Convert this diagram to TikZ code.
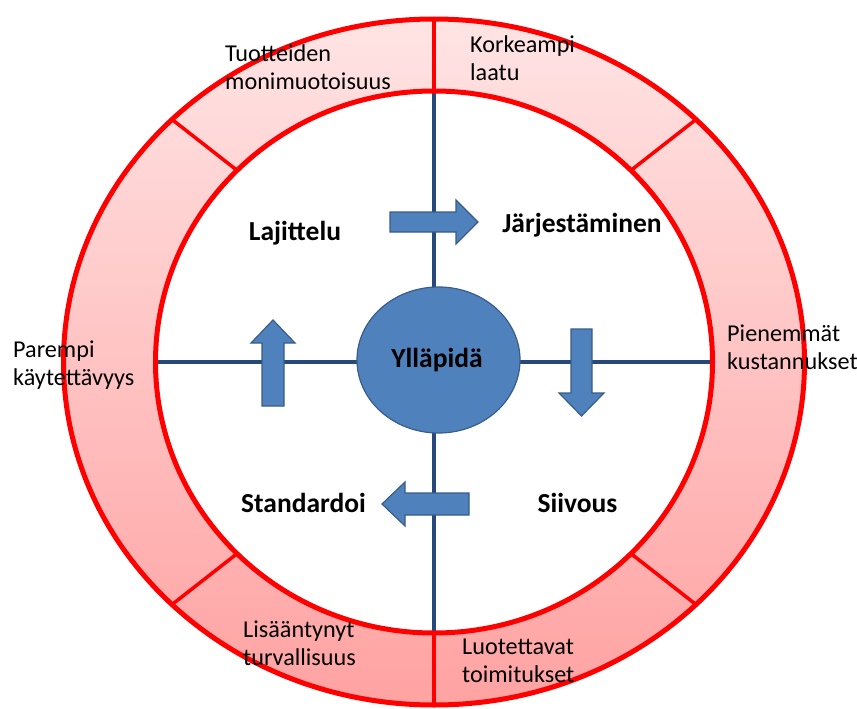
\documentclass[tikz,border=0pt]{standalone}
\usepackage{fontspec}
\setmainfont{Carlito}
\usetikzlibrary{shapes.geometric,calc}
\definecolor{ringred}{RGB}{255,0,0}
\definecolor{ringtop}{RGB}{255,228,228}
\definecolor{ringbot}{RGB}{255,162,162}
\definecolor{axisblue}{RGB}{38,72,122}
\definecolor{boxblue}{RGB}{79,129,189}
\definecolor{boxedge}{RGB}{56,93,138}
\begin{document}
\begin{tikzpicture}[x=1pt,y=-1pt,
  ringline/.style={draw=ringred, line width=5pt},
  divider/.style={draw=ringred, line width=3.5pt},
  axis/.style={draw=axisblue, line width=4pt},
  flowarrow/.style={fill=boxblue, draw=boxedge, line width=1.2pt, line join=miter},
  stage/.style={font=\fontsize{27.5}{32}\selectfont\bfseries, anchor=base, inner sep=0pt},
  benefit/.style={font=\fontsize{24.2}{28}\selectfont, anchor=base west, align=left, inner sep=0pt}]
\useasboundingbox (0,0) rectangle (857,709);
\coordinate (c) at (434,362);
% outer ring with vertical gradient
\shade[top color=ringtop, bottom color=ringbot] (c) ellipse [x radius=370.5, y radius=343];
\fill[white] (c) ellipse [x radius=278.5, y radius=271];
% axes of the inner field
\coordinate (inW) at ($(c)+(180:278.5 and 271)$);
\coordinate (inE) at ($(c)+(0:278.5 and 271)$);
\coordinate (inN) at ($(c)+(-90:278.5 and 271)$);
\coordinate (inS) at ($(c)+(90:278.5 and 271)$);
\draw[axis] (inW) -- (inE);
\draw[axis] (inN) -- (inS);
% ring outlines and segment dividers
\draw[ringline] (c) ellipse [x radius=370.5, y radius=343];
\draw[ringline] (c) ellipse [x radius=278.5, y radius=271];
\foreach \a in {45,90,135,225,270,315}
  \draw[divider] ($(c)+(\a:370.5 and 343)$) -- ($(c)+(\a:278.5 and 271)$);
% centre
\node[ellipse, fill=boxblue, draw=boxedge, line width=1.2pt,
      minimum width=163pt, minimum height=146pt, inner sep=0pt] (hub) at (438.5,360) {};
\node[stage] (yllapida) at (437,367) {Ylläpidä};
% block arrows between the stages
\draw[flowarrow] (390,212) -- (456,212) -- (456,200) -- (478,222) -- (456,244) -- (456,232) -- (390,232) -- cycle;
\draw[flowarrow] (571,329) -- (592,329) -- (592,393) -- (604,393) -- (581.5,416) -- (559,393) -- (571,393) -- cycle;
\draw[flowarrow] (469,493) -- (405,493) -- (405,482) -- (382,504) -- (405,526) -- (405,515) -- (469,515) -- cycle;
\draw[flowarrow] (262,406) -- (262,343) -- (251,343) -- (273,320) -- (295,343) -- (284,343) -- (284,406) -- cycle;
% stage names
\node[stage] (lajittelu) at (295,240) {Lajittelu};
\node[stage] (jarjest) at (582,232) {Järjestäminen};
\node[stage] (standardoi) at (303.5,512) {Standardoi};
\node[stage] (siivous) at (577.5,512) {Siivous};
% benefits around the ring (anchored on the baseline of the second line)
\node[benefit] (b1) at (225,89) {Tuotteiden\\monimuotoisuus};
\node[benefit] (b2) at (470,81) {Korkeampi\\laatu};
\node[benefit] (b3) at (13,385) {Parempi\\käytettävyys};
\node[benefit] (b4) at (727,369) {Pienemmät\\kustannukset};
\node[benefit] (b5) at (243,665) {Lisääntynyt\\turvallisuus};
\node[benefit] (b6) at (462,682) {Luotettavat\\toimitukset};
\end{tikzpicture}
\end{document}
